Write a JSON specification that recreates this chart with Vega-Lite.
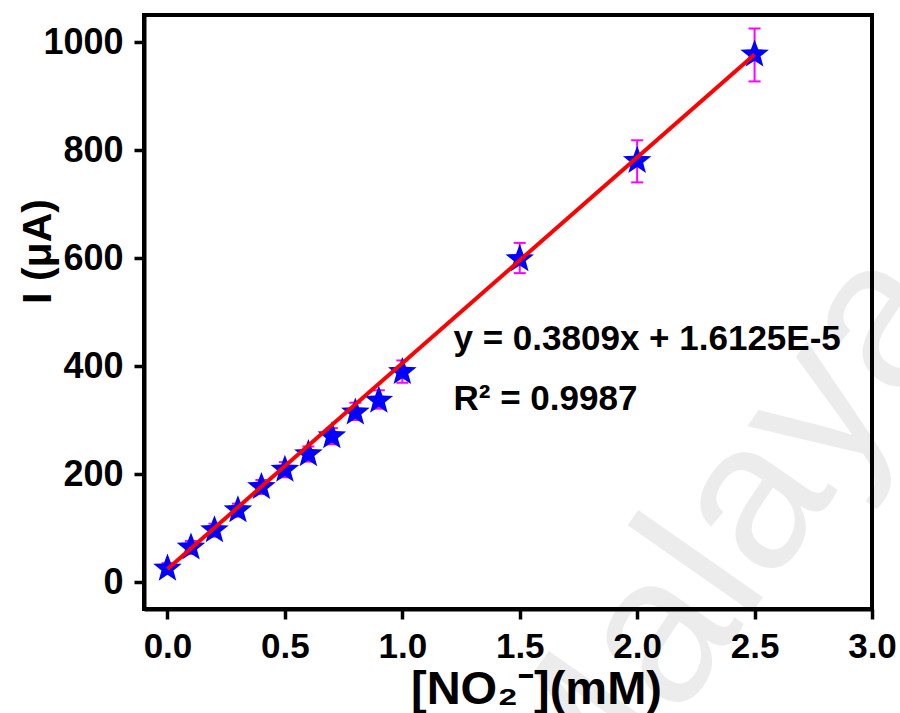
{
  "$schema": "https://vega.github.io/schema/vega-lite/v6.json",
  "width": 728,
  "height": 594,
  "autosize": {"type": "none"},
  "padding": {"left": 144, "top": 15, "right": 28, "bottom": 104},
  "background": "white",
  "config": {
    "view": {"stroke": "black", "strokeWidth": 4},
    "font": "Liberation Sans"
  },
  "datasets": {
    "points": [
      {"x": 0.0, "y": 25, "lo": 15, "hi": 35},
      {"x": 0.1, "y": 64, "lo": 52, "hi": 76},
      {"x": 0.2, "y": 96, "lo": 84, "hi": 108},
      {"x": 0.3, "y": 133, "lo": 121, "hi": 145},
      {"x": 0.4, "y": 176, "lo": 163, "hi": 189},
      {"x": 0.5, "y": 208, "lo": 194, "hi": 222},
      {"x": 0.6, "y": 237, "lo": 223, "hi": 251},
      {"x": 0.7, "y": 270, "lo": 255, "hi": 285},
      {"x": 0.8, "y": 314, "lo": 300, "hi": 332},
      {"x": 0.9, "y": 336, "lo": 321, "hi": 355},
      {"x": 1.0, "y": 389, "lo": 369, "hi": 410},
      {"x": 1.5, "y": 598, "lo": 572, "hi": 628},
      {"x": 2.0, "y": 780, "lo": 740, "hi": 818},
      {"x": 2.5, "y": 977, "lo": 927, "hi": 1025}
    ],
    "fit": [{"x": 0, "y": 24}, {"x": 2.5, "y": 977}],
    "notes": [
      {"x": 1.218, "y": 430, "label": "y = 0.3809x + 1.6125E-5"},
      {"x": 1.218, "y": 319, "label": "R² = 0.9987"}
    ],
    "wm": [{"x": 2.35, "y": 60, "label": "Malaya"}]
  },
  "encoding": {
    "x": {
      "field": "x",
      "type": "quantitative",
      "title": "[NO₂⁻](mM)",
      "scale": {"domain": [-0.1, 3.0], "nice": false, "zero": false},
      "axis": {
        "values": [0, 0.5, 1, 1.5, 2, 2.5, 3],
        "format": ".1f",
        "title": "[NO₂⁻](mM)",
        "grid": false,
        "domainColor": "black",
        "domainWidth": 4,
        "tickColor": "black",
        "tickWidth": 3.5,
        "tickSize": 10,
        "labelFont": "Liberation Sans",
        "labelFontSize": 35,
        "labelFontWeight": "bold",
        "labelColor": "black",
        "labelPadding": 10,
        "labelFlush": false,
        "labelOverlap": false,
        "titleFont": "Liberation Sans",
        "titleFontSize": 47,
        "titleFontWeight": "bold",
        "titleColor": "black",
        "titleX": 392,
        "titleY": 94,
        "titleBaseline": "alphabetic",
        "titleAlign": "center",
        "zindex": 1
      }
    },
    "y": {
      "field": "y",
      "type": "quantitative",
      "title": "I (μA)",
      "scale": {"domain": [-50, 1050], "nice": false, "zero": false},
      "axis": {
        "values": [0, 200, 400, 600, 800, 1000],
        "format": "d",
        "title": "I (μA)",
        "grid": false,
        "domainColor": "black",
        "domainWidth": 4,
        "tickColor": "black",
        "tickWidth": 3.5,
        "tickSize": 10,
        "labelFont": "Liberation Sans",
        "labelFontSize": 36,
        "labelFontWeight": "bold",
        "labelColor": "black",
        "labelPadding": 11,
        "labelFlush": false,
        "labelOverlap": false,
        "titleFont": "Liberation Sans",
        "titleFontSize": 41,
        "titleFontWeight": "bold",
        "titleColor": "black",
        "titleAngle": 270,
        "titleX": -94,
        "titleY": 236,
        "titleBaseline": "alphabetic",
        "titleAlign": "center",
        "zindex": 1
      }
    }
  },
  "layer": [
    {
      "data": {"name": "wm"},
      "mark": {"type": "text", "align": "center", "baseline": "middle", "angle": -55, "fontSize": 210, "font": "Liberation Sans", "fill": "black", "opacity": 0.07},
      "encoding": {"text": {"field": "label"}}
    },
    {
      "data": {"name": "points"},
      "mark": {"type": "rule", "color": "#ff00ff", "strokeWidth": 2},
      "encoding": {
        "y": {"field": "lo", "type": "quantitative", "title": "I (μA)"},
        "y2": {"field": "hi"}
      }
    },
    {
      "data": {"name": "points"},
      "mark": {"type": "tick", "orient": "horizontal", "size": 12, "thickness": 2, "color": "#ff00ff", "opacity": 1},
      "encoding": {"y": {"field": "lo", "type": "quantitative", "title": "I (μA)"}}
    },
    {
      "data": {"name": "points"},
      "mark": {"type": "tick", "orient": "horizontal", "size": 12, "thickness": 2, "color": "#ff00ff", "opacity": 1},
      "encoding": {"y": {"field": "hi", "type": "quantitative", "title": "I (μA)"}}
    },
    {
      "data": {"name": "points"},
      "mark": {
        "type": "point",
        "shape": "M0,-1L0.247,-0.34L0.951,-0.309L0.399,0.13L0.588,0.809L0,0.42L-0.588,0.809L-0.399,0.13L-0.951,-0.309L-0.247,-0.34Z",
        "size": 900,
        "filled": true,
        "color": "#0000ff",
        "opacity": 1
      }
    },
    {
      "data": {"name": "fit"},
      "mark": {"type": "line", "color": "#ff0000", "strokeWidth": 4},
      "encoding": {}
    },
    {
      "data": {"name": "notes"},
      "mark": {"type": "text", "align": "left", "baseline": "alphabetic", "fontSize": 35, "fontWeight": "bold", "font": "Liberation Sans", "color": "black"},
      "encoding": {"text": {"field": "label"}}
    }
  ]
}
